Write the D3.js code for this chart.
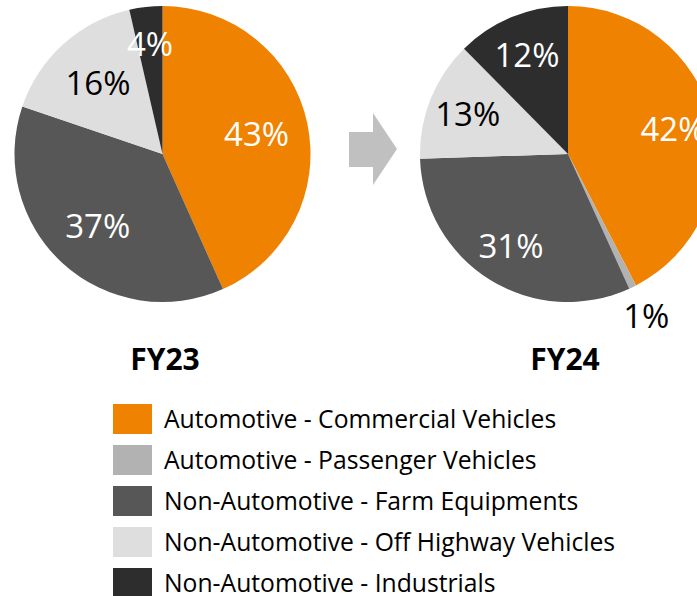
<!DOCTYPE html>
<html lang="en">
<head>
<meta charset="utf-8">
<title>Revenue mix FY23 vs FY24</title>
<script src="https://cdn.jsdelivr.net/npm/d3@7"></script>
<style>
    body { margin: 0; background: #fff; }
    svg { display: block; }
    text { font-family: "Open Sans", sans-serif; }
</style>
</head>
<body>
<script>
// segments, clockwise from 12 o'clock
var categories = [
    "Automotive - Commercial Vehicles",
    "Automotive - Passenger Vehicles",
    "Non-Automotive - Farm Equipments",
    "Non-Automotive - Off Highway Vehicles",
    "Non-Automotive - Industrials"
];
var colors = ["#ef8200", "#b2b2b2", "#575757", "#dedede", "#2d2d2d"];
var labelColors = ["#fff", "#000", "#fff", "#000", "#fff"];

var years = ["FY23", "FY24"];
var fy23 = [43.3, 0, 36.9, 16.2, 3.6];
var fy24 = [42.4, 0.8, 31.3, 13.1, 12.4];

var w = 697, h = 596;
var svg = d3.select("body").append("svg").attr("width", w).attr("height", h);

var r = 148;
var pie = d3.pie().sort(null).value(function(d) { return d; });

function drawPie(values, cx, cy, labelK) {
    var g = svg.append("g").attr("transform", "translate(" + cx + "," + cy + ")");
    var arc = d3.arc().innerRadius(0).outerRadius(r);
    var arcs = pie(values);

    g.selectAll("path").data(arcs).enter().append("path")
        .attr("d", arc)
        .attr("fill", function(d, i) { return colors[i]; });

    // small slices: label pushed out (outside the pie below 2%)
    function labelPos(d) {
        var k = d.value < 2 ? 1.21 : (d.value < 5 ? 0.75 : labelK);
        return d3.arc().innerRadius(r * k).outerRadius(r * k).centroid(d);
    }

    g.selectAll("text").data(arcs.filter(function(d) { return d.value > 0; }))
        .enter().append("text")
        .attr("transform", function(d) { return "translate(" + labelPos(d) + ")"; })
        .attr("text-anchor", "middle")
        .attr("dominant-baseline", "central")
        .attr("font-size", 33)
        .attr("fill", function(d) { return d.value < 2 ? "#000" : labelColors[d.index]; })
        .text(function(d) { return Math.round(d.value) + "%"; });
}

drawPie(fy23, 162.5, 154, 0.65);
drawPie(fy24, 568, 154, 0.73);

// year captions
svg.selectAll("text.year").data(years).enter().append("text")
    .attr("class", "year")
    .attr("x", function(d, i) { return i === 0 ? 165 : 565; })
    .attr("y", 370)
    .attr("text-anchor", "middle")
    .attr("font-size", 30)
    .attr("font-weight", "bold")
    .attr("fill", "#000")
    .text(function(d) { return d; });

// block arrow between the pies
svg.append("path")
    .attr("d", "M349,132 L373,132 L373,113 L397,149 L373,185 L373,167 L349,167 Z")
    .attr("fill", "#c0c0c0");

// legend
var legend = svg.selectAll("g.legend").data(categories).enter().append("g")
    .attr("class", "legend")
    .attr("transform", function(d, i) { return "translate(113," + (404 + i * 41) + ")"; });
legend.append("rect")
    .attr("width", 39).attr("height", 30)
    .attr("fill", function(d, i) { return colors[i]; });
legend.append("text")
    .attr("x", 51).attr("y", 24)
    .attr("font-size", 24.7)
    .attr("fill", "#000")
    .text(function(d) { return d; });
</script>
</body>
</html>
